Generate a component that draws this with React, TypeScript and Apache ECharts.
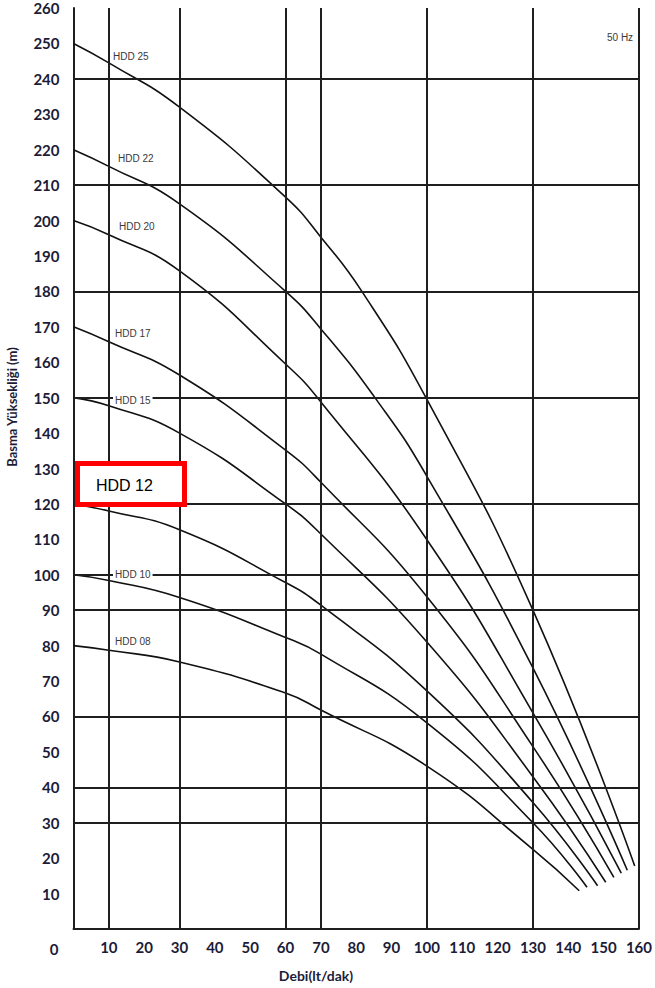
import React, { useEffect, useRef } from "react";
import * as echarts from "echarts";

// Pump curves: flow (lt/dak) and head (m)
const hdd25Flow = [0, 10, 30, 60, 70, 81.6, 100, 130, 158.8];
const hdd25Head = [250, 244.5, 232, 206.6, 195.3, 180, 149.5, 90, 17.8];

const hdd22Flow = [0, 10, 30, 60, 70, 85.8, 100, 130, 156.7];
const hdd22Head = [220, 215.3, 204.7, 180, 169.4, 149.3, 127.8, 73.7, 16.6];

const hdd20Flow = [0, 10, 30, 60, 70, 100, 130, 155];
const hdd20Head = [200, 196, 185.8, 159.5, 148.8, 109.9, 61, 15.8];

const hdd17Flow = [0, 10, 30, 60, 70, 100, 130, 152.9];
const hdd17Head = [170, 165.8, 156.4, 135.2, 126.1, 93.8, 51.5, 14.6];

const hdd15Flow = [0, 10, 30, 60, 70, 100, 130, 150.6];
const hdd15Head = [150, 147.7, 140, 120, 111.5, 81, 43, 13.2];

const hdd12Flow = [0, 10, 30, 60, 70, 100, 130, 148.3];
const hdd12Head = [120, 118, 112.7, 97.8, 91.4, 67.2, 35.7, 12.2];

const hdd10Flow = [0, 10, 30, 60, 70, 100, 130, 145.3];
const hdd10Head = [100, 98.4, 93.6, 82.3, 77.6, 58.2, 30, 11.8];

const hdd08Flow = [0, 10, 30, 60, 70, 100, 130, 143.1];
const hdd08Head = [80, 78.7, 75.4, 66.6, 61.8, 46, 22.5, 10.8];

const seriesNames = ["HDD 25", "HDD 22", "HDD 20", "HDD 17", "HDD 15", "HDD 12", "HDD 10", "HDD 08"];
const seriesFlows = [hdd25Flow, hdd22Flow, hdd20Flow, hdd17Flow, hdd15Flow, hdd12Flow, hdd10Flow, hdd08Flow];
const seriesHeads = [hdd25Head, hdd22Head, hdd20Head, hdd17Head, hdd15Head, hdd12Head, hdd10Head, hdd08Head];

// Irregular grid lines
const gridFlow = [10, 30, 60, 70, 100, 130, 160];
const gridHead = [30, 40, 60, 90, 100, 120, 150, 180, 210, 240];

const xTitle = "Debi(lt/dak)";
const yTitle = "Basma Yüksekliği (m)";
const freqText = "50 Hz";

const LABEL_COLOR = "#1c1c38";
const LINE_COLOR = "#1f1f1f";

export default function App() {
  const ref = useRef<HTMLDivElement>(null);

  useEffect(() => {
    if (!ref.current) return;
    const chart = echarts.init(ref.current, null, { renderer: "svg" });

    const series: any[] = seriesNames.map((name, i) => ({
      name,
      type: "line",
      smooth: 0.5,
      symbol: "none",
      silent: true,
      lineStyle: { color: "#111", width: 1.6 },
      data: seriesFlows[i].map((x, j) => [x, seriesHeads[i][j]]),
      z: 3,
    }));

    series.push({
      name: "grid",
      type: "line",
      data: [],
      silent: true,
      z: 2,
      markLine: {
        silent: true,
        symbol: ["none", "none"],
        animation: false,
        label: { show: false },
        lineStyle: { color: LINE_COLOR, width: 2, type: "solid" },
        emphasis: { disabled: true },
        data: [
          ...gridFlow.map((v) => ({ xAxis: v })),
          ...gridHead.map((v) => ({ yAxis: v })),
        ],
      },
    });

    const labelFont = {
      fontFamily: "Lato, 'Noto Sans', sans-serif",
      fontWeight: "bold" as const,
      fontSize: 15,
      color: LABEL_COLOR,
    };

    const curveLabel = (text: string, x: number, y: number) => ({
      type: "text",
      x,
      y,
      z: 100,
      silent: true,
      style: {
        text,
        fontFamily: "'Liberation Sans', Arial, sans-serif",
        fontSize: 10,
        fill: "#3a3a3a",
        align: "left",
        verticalAlign: "middle",
        backgroundColor: "#fff",
        padding: [1, 2, 1, 2],
      },
    });

    chart.setOption({
      animation: false,
      backgroundColor: "#fff",
      grid: { left: 73.5, top: 8, right: 14, bottom: 59 },
      xAxis: {
        type: "value",
        min: 0,
        max: 160,
        interval: 10,
        axisLine: { show: true, lineStyle: { color: LINE_COLOR, width: 2 } },
        axisTick: { show: false },
        splitLine: { show: false },
        axisLabel: {
          ...labelFont,
          margin: 10,
          formatter: (v: number) => (v === 0 ? "" : String(v)),
        },
      },
      yAxis: {
        type: "value",
        min: 0,
        max: 260,
        interval: 10,
        axisLine: { show: true, lineStyle: { color: LINE_COLOR, width: 2 } },
        axisTick: { show: false },
        splitLine: { show: false },
        axisLabel: {
          ...labelFont,
          margin: 14,
          formatter: (v: number) => (v === 0 ? "" : String(v)),
        },
      },
      series,
      graphic: [
        {
          type: "text",
          x: 54,
          y: 949,
          silent: true,
          style: {
            text: "0",
            fontFamily: labelFont.fontFamily,
            fontWeight: "bold",
            fontSize: 15,
            fill: LABEL_COLOR,
            align: "center",
            verticalAlign: "middle",
          },
        },
        {
          type: "text",
          x: 316,
          y: 975,
          silent: true,
          style: {
            text: xTitle,
            fontFamily: labelFont.fontFamily,
            fontWeight: "bold",
            fontSize: 14,
            fill: LABEL_COLOR,
            align: "center",
            verticalAlign: "middle",
          },
        },
        {
          type: "text",
          x: 12,
          y: 407,
          rotation: Math.PI / 2,
          silent: true,
          style: {
            text: yTitle,
            fontFamily: labelFont.fontFamily,
            fontWeight: "bold",
            fontSize: 13,
            fill: LABEL_COLOR,
            align: "center",
            verticalAlign: "middle",
          },
        },
        curveLabel("HDD 25", 111, 56),
        curveLabel("HDD 22", 116, 158),
        curveLabel("HDD 20", 117, 226),
        curveLabel("HDD 17", 113, 333),
        curveLabel("HDD 15", 113, 400),
        curveLabel("HDD 10", 113, 574),
        curveLabel("HDD 08", 113, 641),
        {
          type: "text",
          x: 607,
          y: 37,
          silent: true,
          style: {
            text: freqText,
            fontFamily: "'Liberation Sans', Arial, sans-serif",
            fontSize: 10,
            fill: "#3a3a3a",
            align: "left",
            verticalAlign: "middle",
          },
        },
        {
          type: "rect",
          z: 100,
          silent: true,
          shape: { x: 77.5, y: 463.5, width: 107, height: 41 },
          style: { fill: "#fff", stroke: "#ff0000", lineWidth: 5 },
        },
        {
          type: "text",
          x: 96,
          y: 485,
          z: 101,
          silent: true,
          style: {
            text: "HDD 12",
            fontFamily: "'Liberation Sans', Arial, sans-serif",
            fontSize: 16,
            fill: "#000",
            align: "left",
            verticalAlign: "middle",
          },
        },
      ],
    });

    return () => chart.dispose();
  }, []);

  return (
    <div
      ref={ref}
      style={{ position: "fixed", left: 0, top: 0, width: 655, height: 988 }}
    />
  );
}
